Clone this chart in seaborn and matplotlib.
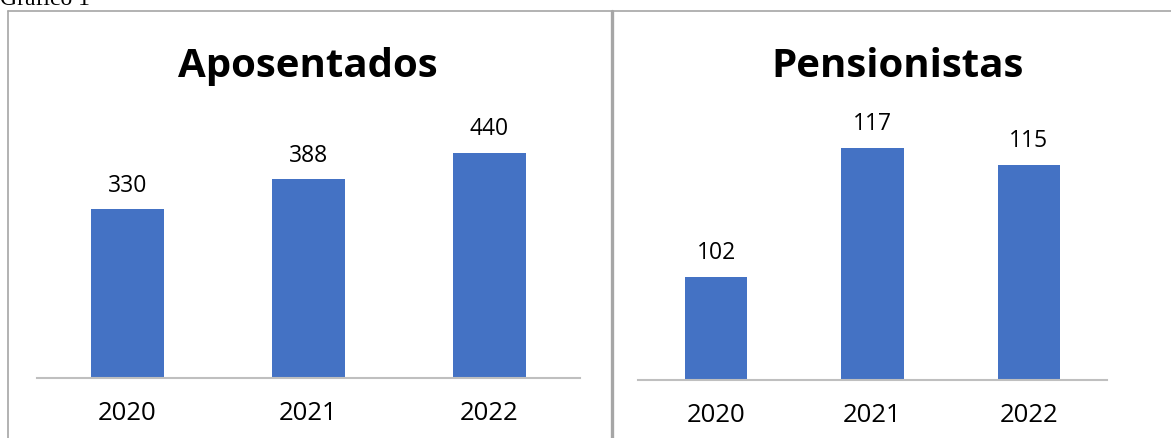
import matplotlib
matplotlib.use("Agg")
import matplotlib.pyplot as plt
import seaborn as sns
import pandas as pd
from matplotlib.lines import Line2D

# Data
years = ["2020", "2021", "2022"]
aposentados = [330, 388, 440]
pensionistas = [102, 117, 115]
titles = ["Aposentados", "Pensionistas"]

sns.set_theme(style="white")
plt.rcParams["font.family"] = ["Open Sans", "DejaVu Sans"]

W, H = 1171, 439
fig = plt.figure(figsize=(W / 100, H / 100), dpi=100)
fig.patch.set_facecolor("white")

def px_rect(x0, x1, ytop, ybot):
    return [x0 / W, 1 - ybot / H, (x1 - x0) / W, (ybot - ytop) / H]

ax1 = fig.add_axes(px_rect(37, 580, 123, 379))
ax2 = fig.add_axes(px_rect(638, 1107, 123, 381))

bar_color = "#4472C4"
axis_gray = "#BFBFBF"
border_gray = "#A6A6A6"

df1 = pd.DataFrame({"ano": years, "valor": aposentados})
df2 = pd.DataFrame({"ano": years, "valor": pensionistas})

for ax, df, ylim in [(ax1, df1, (0, 500)), (ax2, df2, (90, 120))]:
    sns.barplot(data=df, x="ano", y="valor", color=bar_color, width=0.4,
                saturation=1, ax=ax, edgecolor=bar_color, linewidth=0)
    ax.set_ylim(*ylim)
    ax.set_xlabel("")
    ax.set_ylabel("")
    ax.set_yticks([])
    for s in ["top", "left", "right"]:
        ax.spines[s].set_visible(False)
    ax.spines["bottom"].set_color(axis_gray)
    ax.spines["bottom"].set_linewidth(1.5)
    ax.tick_params(axis="x", length=0, pad=16, labelsize=18.5, labelcolor="black")
    ax.set_facecolor("none")
    for c in ax.containers:
        ax.bar_label(c, fmt="%d", padding=9, fontsize=16.5, color="black")

# Titles
fig.text(308 / W, 1 - 77 / H, titles[0], ha="center", va="baseline",
         fontsize=29, fontweight="bold", color="black")
fig.text(898 / W, 1 - 77 / H, titles[1], ha="center", va="baseline",
         fontsize=29, fontweight="bold", color="black")

# Caption (cut off at top, as in the reference)
fig.text(0, 1 - 5 / H, "Gráfico 1", ha="left", va="baseline",
         fontsize=17, family=["Liberation Serif"], color="black")

# Panel borders
fig.add_artist(Line2D([8 / W, 1], [1 - 12 / H, 1 - 12 / H], color=border_gray,
                      lw=1.2, transform=fig.transFigure))
fig.add_artist(Line2D([8 / W, 8 / W], [0, 1 - 12 / H], color=border_gray,
                      lw=1.2, transform=fig.transFigure))
fig.add_artist(Line2D([611.5 / W, 611.5 / W], [0, 1 - 12 / H], color=border_gray,
                      lw=2.4, transform=fig.transFigure))

fig.savefig("out.png", dpi=100, facecolor="white")
